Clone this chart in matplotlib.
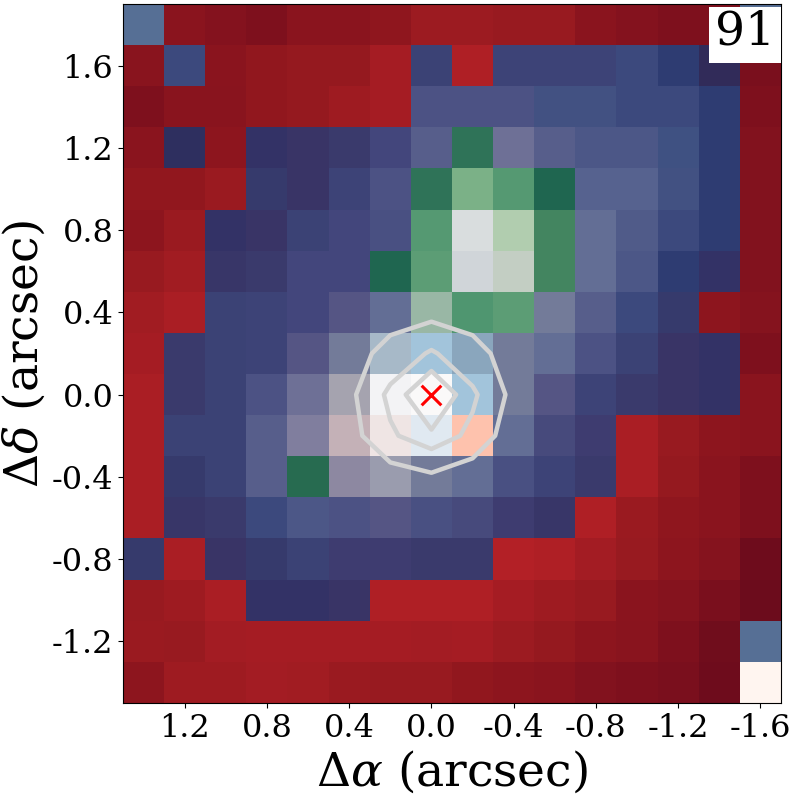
import matplotlib
matplotlib.use("Agg")
import matplotlib.pyplot as plt
from matplotlib.colors import LinearSegmentedColormap
from matplotlib.patches import Rectangle
import numpy as np

# flux map, arbitrary scale read by eye, top row first
FLUX = [
    [56, 15, 11, 8, 15, 15, 17, 23, 23, 21, 21, 15, 11, 8, 8, 56],
    [14, 43, 15, 18, 20, 20, 27, 40, 29, 41, 41, 41, 43, 39, 31, 6],
    [8, 14, 14, 18, 20, 24, 27, 48, 48, 48, 45, 45, 43, 43, 39, 8],
    [15, 32, 16, 33, 34, 37, 42, 52, 68, 57, 52, 49, 49, 46, 39, 10],
    [18, 18, 22, 36, 34, 41, 48, 68, 77, 74, 65, 53, 53, 45, 39, 10],
    [16, 22, 33, 34, 40, 42, 47, 74, 88, 81, 71, 55, 50, 43, 39, 10],
    [21, 25, 35, 37, 42, 42, 65, 75, 86, 83, 71, 55, 49, 39, 33, 10],
    [25, 28, 40, 41, 42, 51, 55, 79, 73, 75, 58, 52, 43, 36, 16, 12],
    [27, 37, 40, 41, 51, 58, 90, 91, 89, 58, 55, 48, 40, 34, 33, 8],
    [28, 37, 40, 48, 57, 62, 97, 98, 91, 58, 51, 41, 37, 34, 33, 15],
    [28, 40, 40, 52, 59, 93, 94, 92, 96, 55, 44, 38, 28, 21, 16, 15],
    [28, 36, 40, 52, 66, 60, 61, 58, 55, 47, 41, 37, 28, 20, 15, 8],
    [28, 35, 37, 43, 49, 48, 51, 47, 44, 38, 35, 29, 22, 17, 15, 8],
    [36, 28, 34, 36, 40, 38, 38, 37, 37, 30, 29, 26, 21, 16, 12, 1],
    [21, 24, 28, 33, 33, 34, 29, 29, 29, 27, 24, 21, 15, 12, 6, 0],
    [22, 21, 26, 27, 27, 27, 27, 26, 27, 23, 20, 16, 14, 8, 2, 56],
    [16, 24, 24, 26, 25, 22, 21, 21, 18, 16, 15, 10, 8, 6, 1, 100],
]

# beam, sampled on the same 0.2 arcsec spacing, bottom row first
BEAM_X = [-0.4, -0.2, 0.0, 0.2, 0.4]
BEAM_Y = [-0.4, -0.2, 0.0, 0.2, 0.4]
BEAM = [
    [0.12, 0.198, 0.315, 0.239, 0.13],
    [0.198, 0.558, 0.765, 0.584, 0.255],
    [0.283, 0.667, 1.0, 0.68, 0.295],
    [0.258, 0.44, 0.652, 0.44, 0.262],
    [0.12, 0.26, 0.275, 0.26, 0.12],
]
BEAM_LEVELS = [0.36, 0.62, 0.8]

X_TICKS = [1.2, 0.8, 0.4, 0.0, -0.4, -0.8, -1.2, -1.6]
Y_TICKS = [-1.2, -0.8, -0.4, 0.0, 0.4, 0.8, 1.2, 1.6]
PANEL_ID = "91"

CMAP_STOPS = [
    (0, "#6c0c1c"), (8, "#7f111e"), (15, "#8b151e"), (21, "#981a20"), (27, "#a61d24"), (30, "#b42127"),
    (31, "#2e2c5b"), (32, "#2f3060"), (33, "#343367"), (34, "#3a3466"), (36, "#363a6c"), (37, "#3b3a6c"),
    (38, "#3f3c70"), (39, "#2e3d73"), (40, "#3b4275"), (41, "#3e4478"), (42, "#44467c"), (43, "#3c4a7e"),
    (44, "#484a7c"), (45, "#425283"), (46, "#3f5283"), (47, "#4a5082"), (48, "#4c5284"), (49, "#4c5888"),
    (50, "#505c8a"), (51, "#555584"), (52, "#585f8c"), (53, "#56628f"), (55, "#646e96"), (56, "#567095"),
    (57, "#6e7096"), (58, "#747c9a"), (59, "#807e9e"), (60, "#8e89a2"), (61, "#9a9cae"), (62, "#a6a4b0"),
    (65, "#1f6650"), (66, "#286c50"), (68, "#2f7358"), (71, "#438560"), (73, "#4f9670"), (74, "#559972"),
    (75, "#5c9d75"), (77, "#7cb288"), (79, "#9ab8a6"), (81, "#b2ceb0"), (83, "#c4cfc4"), (86, "#d0d5d9"),
    (88, "#dcdfe0"), (89, "#8aa6bd"), (90, "#a8b9c8"), (91, "#a2c4db"), (92, "#e2ecf4"), (93, "#c4b1b7"),
    (94, "#efe6e6"), (96, "#ffc0aa"), (97, "#f3f3f5"), (98, "#fafafa"), (100, "#fff5f0"),
]


def main() -> None:
    plt.rcParams["font.family"] = "DejaVu Serif"
    plt.rcParams["mathtext.fontset"] = "dejavuserif"
    plt.rcParams["axes.unicode_minus"] = False

    cmap = LinearSegmentedColormap.from_list(
        "flux", [(v / 100, c) for v, c in CMAP_STOPS], N=2048
    )

    fig = plt.figure(figsize=(8, 8), dpi=100)
    ax = fig.add_axes([123 / 800, 97 / 800, 658 / 800, 699 / 800])
    ax.imshow(
        np.array(FLUX),
        cmap=cmap,
        vmin=0,
        vmax=100,
        extent=(1.5, -1.7, -1.5, 1.9),
        aspect="auto",
        interpolation="nearest",
    )
    ax.contour(BEAM_X, BEAM_Y, BEAM, levels=BEAM_LEVELS, colors="lightgray", linewidths=3.2)
    ax.scatter([0], [0], marker="x", s=200, color="red", linewidths=2.2)

    ax.set_xticks(X_TICKS)
    ax.set_yticks(Y_TICKS)
    ax.set_xticklabels([f"{t:.1f}" for t in X_TICKS])
    ax.set_yticklabels([f"{t:.1f}" for t in Y_TICKS])
    ax.tick_params(labelsize=23)
    ax.set_xlim(1.5, -1.7)
    ax.set_ylim(-1.5, 1.9)
    ax.set_xlabel(r"$\Delta\alpha$ (arcsec)", fontsize=34, labelpad=4)
    ax.set_ylabel(r"$\Delta\delta$ (arcsec)", fontsize=34, labelpad=2.5)

    # panel number in its white box, top right corner
    ax.add_patch(
        Rectangle((0.8906, 0.9149), 0.1094, 0.0815, transform=ax.transAxes, facecolor="white", edgecolor="none", zorder=4)
    )
    ax.text(0.945, 0.9595, PANEL_ID, transform=ax.transAxes, ha="center", va="center", fontsize=34, zorder=5)

    fig.savefig("out.png", dpi=100)
    plt.close(fig)


if __name__ == "__main__":
    main()
